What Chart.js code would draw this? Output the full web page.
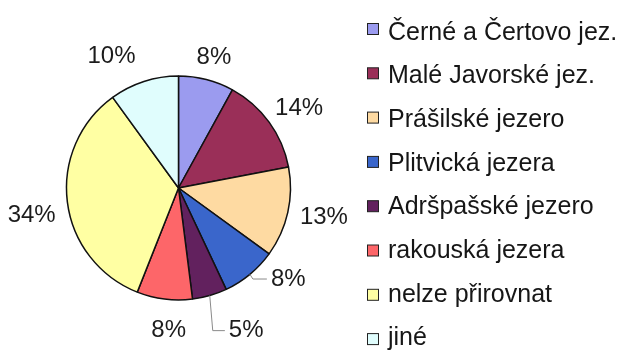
<!DOCTYPE html>
<html>
<head>
<meta charset="utf-8">
<script src="https://cdn.jsdelivr.net/npm/chart.js@4"></script>
<style>
  html, body { margin: 0; padding: 0; background: #fff; }
  #wrap { width: 619px; height: 351px; position: relative; }
</style>
</head>
<body>
<div id="wrap"><canvas id="lakeChart"></canvas></div>
<script>
const lakes = ["Černé a Čertovo jez.", "Malé Javorské jez.", "Prášilské jezero", "Plitvická jezera",
               "Adršpašské jezero", "rakouská jezera", "nelze přirovnat", "jiné"];
const shares = [8, 14, 13, 8, 5, 8, 34, 10];
const sliceColors = ["#9b9bef", "#9a2f58", "#fedaa2", "#3a66cb", "#62215e", "#fd6669", "#ffffa3", "#e0fdfd"];

const FONT = '"Liberation Sans", Arial, sans-serif';

// percentage labels outside the pie; some are moved by hand, two of them get a leader line
const sliceLabels = {
  id: "sliceLabels",
  afterDatasetsDraw(chart, args, opts) {
    const ctx = chart.ctx;
    const meta = chart.getDatasetMeta(0);
    const total = shares.reduce((a, b) => a + b, 0);
    ctx.save();
    ctx.font = opts.size + "px " + FONT;
    ctx.fillStyle = "#1c1c1c";
    ctx.textAlign = "center";
    ctx.textBaseline = "middle";
    meta.data.forEach((arc, i) => {
      const p = arc.getProps(["x", "y", "startAngle", "endAngle", "outerRadius"], true);
      const mid = (p.startAngle + p.endAngle) / 2;
      const cx = Math.cos(mid), sy = Math.sin(mid);
      const text = Math.round(shares[i] / total * 100) + "%";
      const w = ctx.measureText(text).width, h = 20;
      const r = p.outerRadius + opts.gap;
      let lx = p.x + cx * r + cx * w / 2;
      let ly = p.y + sy * r + sy * h / 2;
      const shift = opts.shift[i];
      if (shift) {
        lx += shift[0];
        ly += shift[1];
      }
      if (opts.leader.includes(i)) {
        const ex = p.x + cx * p.outerRadius, ey = p.y + sy * p.outerRadius;
        ctx.strokeStyle = "#8a8a8a";
        ctx.lineWidth = 1;
        ctx.beginPath();
        ctx.moveTo(ex, ey);
        ctx.lineTo(ex + 3, ly);
        ctx.lineTo(lx - w / 2 - 4, ly);
        ctx.stroke();
      }
      ctx.fillText(text, lx, ly);
    });
    ctx.restore();
  }
};

// legend column on the right
const sideLegend = {
  id: "sideLegend",
  afterDraw(chart, args, opts) {
    const ctx = chart.ctx;
    ctx.save();
    ctx.font = "25px " + FONT;
    ctx.textBaseline = "alphabetic";
    lakes.forEach((name, i) => {
      const y = opts.top + i * opts.step;
      ctx.fillStyle = sliceColors[i];
      ctx.fillRect(opts.left, y - 5.5, 11, 11);
      ctx.strokeStyle = "#222";
      ctx.lineWidth = 1;
      ctx.strokeRect(opts.left + 0.5, y - 5.5, 11, 11);
      ctx.fillStyle = "#161616";
      ctx.fillText(name, opts.left + 21, opts.baseline + i * opts.textStep);
    });
    ctx.restore();
  }
};

new Chart("lakeChart", {
  type: "pie",
  data: {
    labels: lakes,
    datasets: [{
      data: shares,
      backgroundColor: sliceColors,
      borderColor: "#111",
      borderWidth: 1.5
    }]
  },
  options: {
    responsive: true,
    maintainAspectRatio: false,
    animation: false,
    events: [],
    radius: 112,
    layout: { padding: { left: 20, right: 282, top: 30, bottom: 5 } },
    plugins: {
      legend: { display: false },
      tooltip: { enabled: false },
      sliceLabels: {
        size: 24,
        gap: 13,
        shift: { 3: [19, -13], 4: [28, 13], 5: [8, 8], 6: [1, 10], 7: [-21, -3] },
        leader: [3, 4]
      },
      sideLegend: { left: 367, top: 29, step: 44.3, baseline: 39.5, textStep: 43.7 }
    }
  },
  plugins: [sliceLabels, sideLegend]
});
</script>
</body>
</html>
